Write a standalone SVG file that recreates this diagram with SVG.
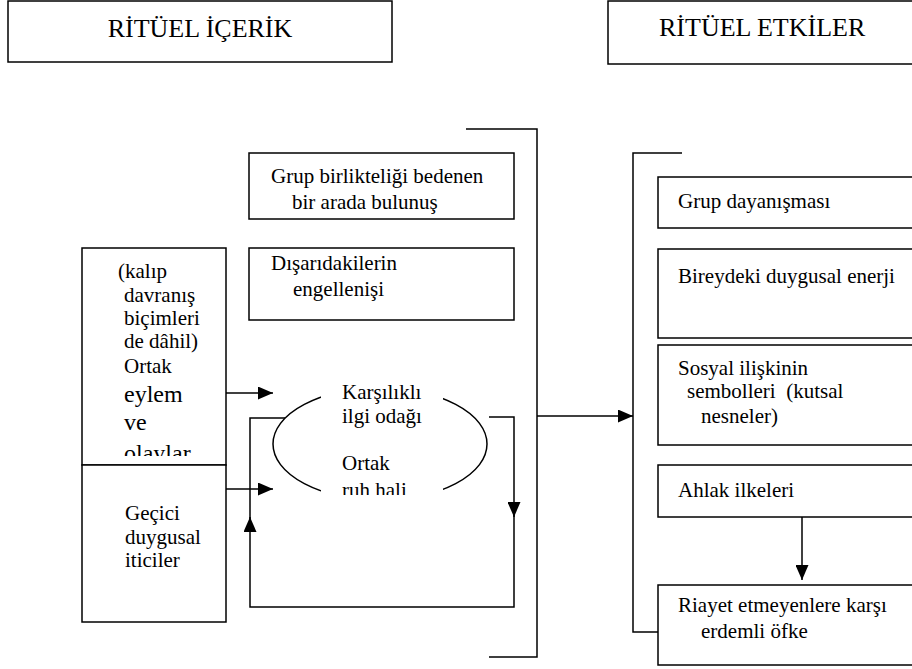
<svg xmlns="http://www.w3.org/2000/svg" width="912" height="669" viewBox="0 0 912 669">
<style>
.box{fill:#fff;stroke:#000;stroke-width:1.5}
.ln{fill:none;stroke:#000;stroke-width:1.5}
text{font-family:"Liberation Serif","Times New Roman",serif;font-size:21px;fill:#000}
.ttl{font-size:26px}
.big{font-size:24px}
</style>
<defs>
<marker id="ah" viewBox="0 0 15 13" refX="15" refY="6.5" markerWidth="15" markerHeight="13" markerUnits="userSpaceOnUse" orient="auto">
<path d="M0,0 L15,6.5 L0,13 z" fill="#000"/>
</marker>
<clipPath id="c1"><rect x="82" y="249" width="144" height="207"/></clipPath>
<clipPath id="c2"><rect x="321" y="385" width="122" height="110"/></clipPath>
</defs>
<rect width="912" height="669" fill="#fff"/>

<g id="title-left">
<rect class="box" x="8" y="1" width="384" height="61"/>
<text class="ttl" x="200" y="37" text-anchor="middle">RİTÜEL İÇERİK</text>
</g>
<g id="title-right">
<rect class="box" x="608" y="1" width="330" height="63"/>
<text class="ttl" x="659" y="36">RİTÜEL ETKİLER</text>
</g>

<g id="n-bir-arada">
<rect class="box" x="249" y="153" width="265" height="66"/>
<text x="271" y="183">Grup birlikteliği bedenen</text>
<text x="292" y="209">bir arada bulunuş</text>
</g>
<g id="n-disaridakiler">
<rect class="box" x="249" y="248" width="265" height="72"/>
<text x="271" y="270">Dışarıdakilerin</text>
<text x="293" y="296">engellenişi</text>
</g>

<g id="n-ortak-eylem">
<rect class="box" x="82" y="248" width="144" height="217"/>
<g clip-path="url(#c1)">
<text x="118" y="278">(kalıp</text>
<text x="124" y="302">davranış</text>
<text x="124" y="325">biçimleri</text>
<text x="124" y="348">de dâhil)</text>
<text x="124" y="373">Ortak</text>
<text class="big" x="124" y="402">eylem</text>
<text class="big" x="124" y="430">ve</text>
<text class="big" x="124" y="461">olaylar</text>
</g>
</g>
<g id="n-gecici">
<rect class="box" x="82" y="465" width="144" height="157"/>
<text x="125" y="520">Geçici</text>
<text x="125" y="544">duygusal</text>
<text x="125" y="567">iticiler</text>
</g>

<g id="n-odak">
<ellipse cx="380" cy="444" rx="107" ry="56" fill="none" stroke="#000" stroke-width="1.5"/>
<rect x="321" y="385" width="122" height="120" fill="#fff"/>
<g clip-path="url(#c2)">
<text x="342" y="399">Karşılıklı</text>
<text x="342" y="423">ilgi odağı</text>
<text x="342" y="470">Ortak</text>
<text x="342" y="497">ruh hali</text>
</g>
</g>

<g id="n-dayanisma">
<rect class="box" x="658" y="177" width="280" height="51"/>
<text x="678" y="208">Grup dayanışması</text>
</g>
<g id="n-enerji">
<rect class="box" x="658" y="249" width="280" height="89"/>
<text x="678" y="283">Bireydeki duygusal enerji</text>
</g>
<g id="n-semboller">
<rect class="box" x="658" y="345" width="280" height="100"/>
<text x="678" y="375">Sosyal ilişkinin</text>
<text x="687" y="398" xml:space="preserve">sembolleri  (kutsal</text>
<text x="701" y="423">nesneler)</text>
</g>
<g id="n-ahlak">
<rect class="box" x="658" y="465" width="280" height="52"/>
<text x="678" y="497">Ahlak ilkeleri</text>
</g>
<g id="n-ofke">
<rect class="box" x="658" y="585" width="280" height="80"/>
<text x="678" y="612">Riayet etmeyenlere karşı</text>
<text x="701" y="638">erdemli öfke</text>
</g>

<g id="connectors">
<path class="ln" d="M226,393 H273" marker-end="url(#ah)"/>
<path class="ln" d="M226,489 H273" marker-end="url(#ah)"/>
<path class="ln" d="M489,417 H514 V517" marker-end="url(#ah)"/>
<path class="ln" d="M514,515 V607 H250 V517" marker-end="url(#ah)"/>
<path class="ln" d="M250,520 V418 H285"/>
<path class="ln" d="M466,129 H537 V657 H489"/>
<path class="ln" d="M537,416 H633" marker-end="url(#ah)"/>
<path class="ln" d="M682,153 H633 V632 H658"/>
<path class="ln" d="M802,517 V580" marker-end="url(#ah)"/>
</g>
</svg>
